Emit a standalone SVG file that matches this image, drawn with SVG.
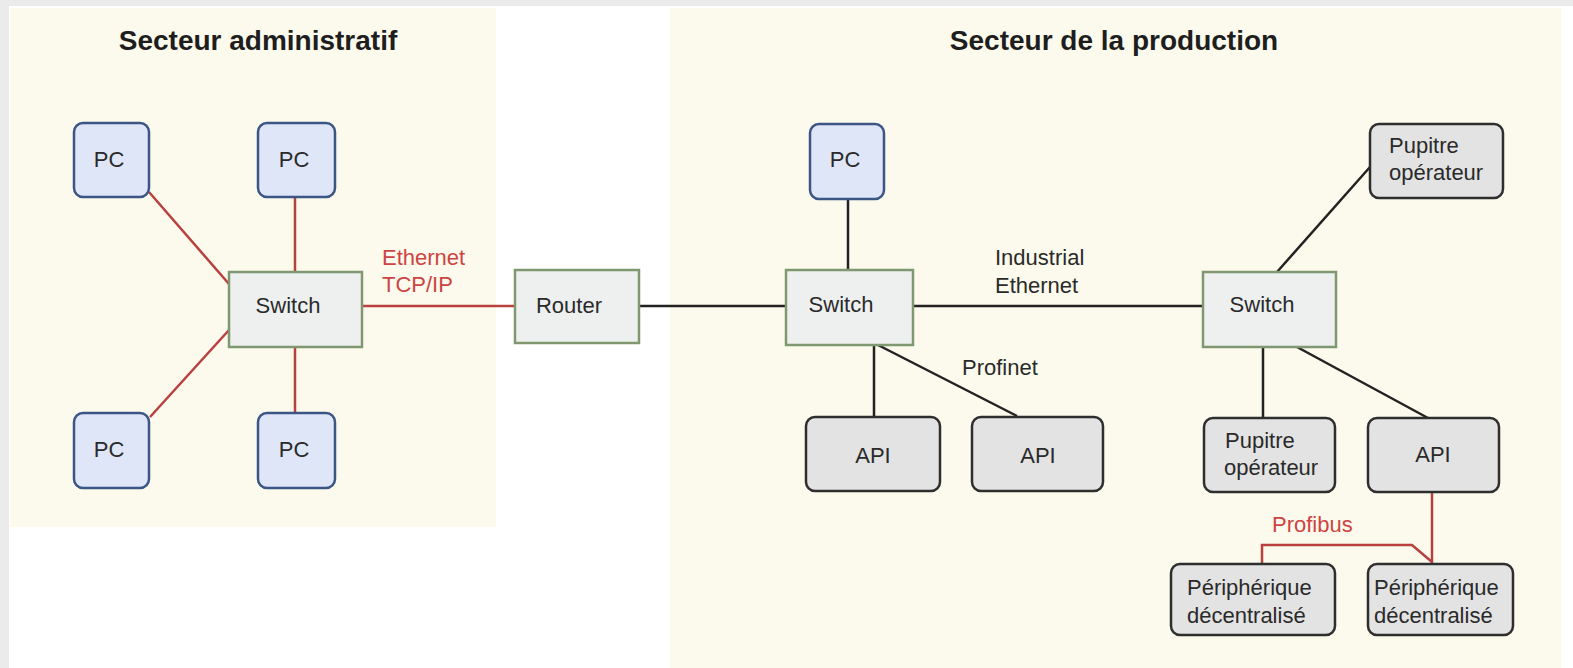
<svg xmlns="http://www.w3.org/2000/svg" width="1573" height="668" viewBox="0 0 1573 668">
<style>
text{font-family:"Liberation Sans",Arial,sans-serif;font-size:22px;fill:#2a2a2a}
.title{font-weight:bold;font-size:28px;fill:#1e1e1e}
.red{fill:#cc4444}
.pc{fill:#dfe6f7;stroke:#3b5585;stroke-width:2.5}
.sw{fill:#eef0f0;stroke:#7f9870;stroke-width:2.5}
.dev{fill:#e3e3e3;stroke:#2e2e2e;stroke-width:2.5}
.c{text-anchor:middle}
.lr{stroke:#b8403f;stroke-width:2.5;fill:none}
.lk{stroke:#222;stroke-width:2.5;fill:none}
</style>
<rect x="0" y="0" width="1573" height="668" fill="#ffffff"/>
<rect x="0" y="0" width="1573" height="6" fill="#ebebeb"/>
<rect x="0" y="0" width="9" height="668" fill="#ebebeb"/>
<rect x="10" y="8" width="486" height="519" fill="#fcfaec"/>
<rect x="670" y="8" width="891" height="660" fill="#fcfaec"/>
<text class="title c" x="258" y="50">Secteur administratif</text>
<text class="title c" x="1114" y="50">Secteur de la production</text>
<g id="connectors">
<line class="lr" x1="149" y1="192" x2="229" y2="284"/>
<line class="lr" x1="295" y1="197" x2="295" y2="272"/>
<line class="lr" x1="150" y1="417" x2="229" y2="330"/>
<line class="lr" x1="295" y1="347" x2="295" y2="413"/>
<line class="lr" x1="362" y1="306" x2="515" y2="306"/>
<line class="lk" x1="639" y1="306" x2="786" y2="306"/>
<line class="lk" x1="848" y1="199" x2="848" y2="270"/>
<line class="lk" x1="913" y1="306" x2="1203" y2="306"/>
<line class="lk" x1="874" y1="345" x2="874" y2="417"/>
<line class="lk" x1="878" y1="345" x2="1017" y2="416"/>
<line class="lk" x1="1370" y1="167" x2="1277" y2="272"/>
<line class="lk" x1="1263" y1="347" x2="1263" y2="418"/>
<line class="lk" x1="1297" y1="347" x2="1428" y2="418"/>
<polyline class="lr" points="1432,492 1432,564"/>
<polyline class="lr" points="1262,564 1262,545 1412,545 1432,562"/>
<text class="red" x="382" y="265">Ethernet</text>
<text class="red" x="382" y="292">TCP/IP</text>
<text x="995" y="265">Industrial</text>
<text x="995" y="293">Ethernet</text>
<text x="962" y="375">Profinet</text>
<text class="red" x="1272" y="532">Profibus</text>
</g>
<g id="pc1"><rect class="pc" x="74" y="123" width="75" height="74" rx="9"/><text class="c" x="109" y="167">PC</text></g>
<g id="pc2"><rect class="pc" x="258" y="123" width="77" height="74" rx="9"/><text class="c" x="294" y="167">PC</text></g>
<g id="pc3"><rect class="pc" x="74" y="413" width="75" height="75" rx="9"/><text class="c" x="109" y="457">PC</text></g>
<g id="pc4"><rect class="pc" x="258" y="413" width="77" height="75" rx="9"/><text class="c" x="294" y="457">PC</text></g>
<g id="switch1"><rect class="sw" x="229" y="272" width="133" height="75"/><text class="c" x="288" y="313">Switch</text></g>
<g id="router"><rect class="sw" x="515" y="270" width="124" height="73"/><text class="c" x="569" y="313">Router</text></g>
<g id="pc5"><rect class="pc" x="810" y="124" width="74" height="75" rx="9"/><text class="c" x="845" y="167">PC</text></g>
<g id="switch2"><rect class="sw" x="786" y="270" width="127" height="75"/><text class="c" x="841" y="312">Switch</text></g>
<g id="api1"><rect class="dev" x="806" y="417" width="134" height="74" rx="9"/><text class="c" x="873" y="463">API</text></g>
<g id="api2"><rect class="dev" x="972" y="417" width="131" height="74" rx="9"/><text class="c" x="1038" y="463">API</text></g>
<g id="switch3"><rect class="sw" x="1203" y="272" width="133" height="75"/><text class="c" x="1262" y="312">Switch</text></g>
<g id="pupitre1"><rect class="dev" x="1370" y="124" width="133" height="74" rx="9"/><text x="1389" y="153">Pupitre</text><text x="1389" y="180">opérateur</text></g>
<g id="pupitre2"><rect class="dev" x="1204" y="418" width="131" height="74" rx="9"/><text x="1225" y="448">Pupitre</text><text x="1224" y="475">opérateur</text></g>
<g id="api3"><rect class="dev" x="1368" y="418" width="131" height="74" rx="9"/><text class="c" x="1433" y="462">API</text></g>
<g id="periph1"><rect class="dev" x="1171" y="564" width="164" height="71" rx="9"/><text x="1187" y="595">Périphérique</text><text x="1187" y="623">décentralisé</text></g>
<g id="periph2"><rect class="dev" x="1368" y="564" width="145" height="71" rx="9"/><text x="1374" y="595">Périphérique</text><text x="1374" y="623">décentralisé</text></g>
</svg>
